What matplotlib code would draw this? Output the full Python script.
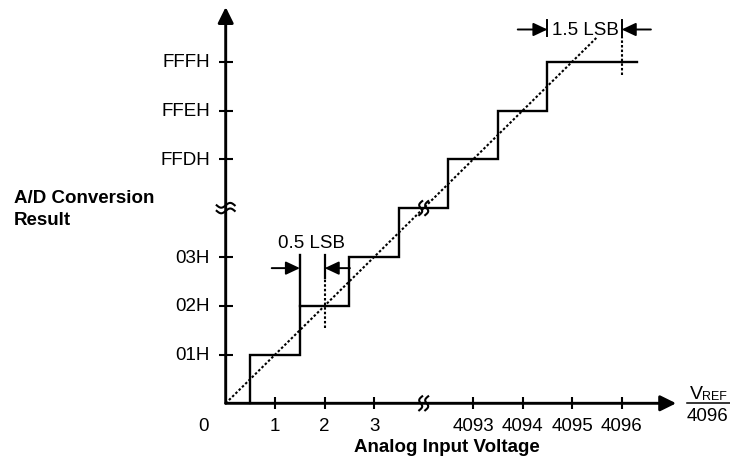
import numpy as np
import matplotlib
matplotlib.use("Agg")
import matplotlib.pyplot as plt

plt.rcParams['font.family'] = ['Liberation Sans', 'DejaVu Sans']

# ---------------- data (codes / LSB units) ----------------
x_tick_codes = [1, 2, 3, 4093, 4094, 4095, 4096]
x_tick_labels = ['1', '2', '3', '4093', '4094', '4095', '4096']
y_tick_codes = [1, 2, 3, 4093, 4094, 4095]
y_tick_labels = ['01H', '02H', '03H', 'FFDH', 'FFEH', 'FFFH']
step_inputs = [0.5, 1.5, 2.5, 3.5, 4092.5, 4093.5, 4094.5]   # transition voltages (LSB)
step_outputs = [1, 2, 3, 4, 4093, 4094, 4095]               # output code after each transition
stair_end = 4096.3
ideal_end = 4095.5
offset_lsb = 0.5       # 0.5 LSB annotation: ideal 2 vs actual 1.5
fullscale_lsb = 1.5    # 1.5 LSB annotation: 4096 vs 4094.5

BREAK_LO, BREAK_HI = 4, 4092


def m(c):
    """Map code values onto the broken axis (codes 4..4092 compressed)."""
    c = np.asarray(c, dtype=float)
    return np.where(c <= BREAK_LO, c, c - (BREAK_HI - BREAK_LO))


SX, SY = 49.5, 48.8  # pixels per unit
X0, Y0 = 225.7, 403.3
W, H = 730, 466

fig = plt.figure(figsize=(W / 100, H / 100), dpi=100)
ax = fig.add_axes([0, 0, 1, 1])
ax.set_xlim(-X0 / SX, (W - X0) / SX)
ax.set_ylim((Y0 - H) / SY, Y0 / SY)
ax.axis('off')

K = 'black'
FS = 13.5
DOT = (0, (1.2, 1.0))

# axes with arrows
arrow_style = '-|>,head_length=0.95,head_width=0.47'
ax.annotate('', xy=(9.1, 0), xytext=(0, 0),
            arrowprops=dict(arrowstyle=arrow_style, lw=2.1, color=K, shrinkA=0, shrinkB=0))
ax.annotate('', xy=(0, 8.12), xytext=(0, 0),
            arrowprops=dict(arrowstyle=arrow_style, lw=2.1, color=K, shrinkA=0, shrinkB=0))

# ticks
xt = m(x_tick_codes)
yt = m(y_tick_codes)
ax.plot(xt, np.zeros_like(xt), ls='none', marker='|', ms=9, mew=1.5, color=K)
ax.plot(np.zeros_like(yt), yt, ls='none', marker='_', ms=10, mew=1.5, color=K)

for x, lab in zip(xt, x_tick_labels):
    ax.text(x, -0.57, lab, ha='center', va='baseline', fontsize=FS)
for y, lab in zip(yt, y_tick_labels):
    ax.text(-0.32, y - 0.117, lab, ha='right', va='baseline', fontsize=FS)
ax.text(-0.44, -0.57, '0', ha='center', va='baseline', fontsize=FS)

# staircase
xs = [step_inputs[0]]
ys = [0]
for i, (sx, out) in enumerate(zip(step_inputs, step_outputs)):
    nxt = step_inputs[i + 1] if i + 1 < len(step_inputs) else stair_end
    xs += [sx, nxt]
    ys += [out, out]
ax.plot(m(xs), m(ys), color=K, lw=1.7, solid_joinstyle='miter')

# ideal transfer line
ax.plot(m([0, ideal_end]), m([0, ideal_end]), color=K, lw=1.5, ls=DOT)

# break marks
def squiggle_h(xc, yc):
    t = np.linspace(-1, 1, 40)
    for off in (-2.8, 2.8):
        dx = 9 * t
        dy = 2.4 * np.sin(np.pi * t) + off
        ax.plot(xc + dx / SX, yc + dy / SY, color=K, lw=1.5)


def squiggle_v(xc, yc):
    t = np.linspace(-1, 1, 40)
    for off in (-3.0, 3.0):
        dy = 7 * t
        dx = -2.2 * np.sin(np.pi * t) + 1.5 * t + off
        ax.plot(xc + dx / SX, yc + dy / SY, color=K, lw=1.5)


squiggle_h(0, m(BREAK_LO))
squiggle_v(m(BREAK_LO), 0)
squiggle_v(m(BREAK_LO), m(BREAK_LO))

# 0.5 LSB annotation
a1 = step_inputs[1]
a2 = a1 + offset_lsb
ax.plot([m(a1)] * 2, [2, 3.03], color=K, lw=1.7)
ax.plot([m(a2)] * 2, [2.57, 3.03], color=K, lw=1.6)
ax.plot([m(a2)] * 2, [1.55, 2.57], color=K, lw=1.5, ls=DOT)
small_arrow = '-|>,head_length=0.85,head_width=0.4'
ax.annotate('', xy=(m(a1), 2.77), xytext=(0.93, 2.77),
            arrowprops=dict(arrowstyle=small_arrow, lw=1.4, color=K, shrinkA=0, shrinkB=0))
ax.annotate('', xy=(m(a2), 2.77), xytext=(2.51, 2.77),
            arrowprops=dict(arrowstyle=small_arrow, lw=1.4, color=K, shrinkA=0, shrinkB=0))
ax.text(1.74, 3.18, '0.5 LSB', ha='center', va='baseline', fontsize=FS)

# 1.5 LSB annotation
b1 = step_inputs[-1]
b2 = b1 + fullscale_lsb
ax.plot([m(b1)] * 2, [7.52, 7.86], color=K, lw=1.4)
ax.plot([m(b2)] * 2, [7.5, 7.86], color=K, lw=1.4)
ax.plot([m(b2)] * 2, [6.73, 7.5], color=K, lw=1.5, ls=DOT)
ax.annotate('', xy=(m(b1), 7.66), xytext=(5.9, 7.66),
            arrowprops=dict(arrowstyle=small_arrow, lw=1.4, color=K, shrinkA=0, shrinkB=0))
ax.annotate('', xy=(m(b2), 7.66), xytext=(8.59, 7.66),
            arrowprops=dict(arrowstyle=small_arrow, lw=1.4, color=K, shrinkA=0, shrinkB=0))
ax.text(7.26, 7.55, '1.5 LSB', ha='center', va='baseline', fontsize=FS)

# axis titles
ax.text(-4.28, 4.1, 'A/D Conversion', ha='left', va='baseline',
        fontsize=FS, fontweight='bold')
ax.text(-4.28, 3.65, 'Result', ha='left', va='baseline',
        fontsize=FS, fontweight='bold')
ax.text(4.46, -1.0, 'Analog Input Voltage', ha='center', va='baseline',
        fontsize=FS, fontweight='bold')

# VREF / 4096 unit label
ax.text(9.38, 0.09, 'V', ha='left', va='baseline', fontsize=14)
ax.text(9.63, 0.07, 'REF', ha='left', va='baseline', fontsize=9)
ax.plot([9.31, 10.18], [0, 0], color=K, lw=1.1)
ax.text(9.74, -0.36, '4096', ha='center', va='baseline', fontsize=FS)

fig.savefig('out.png', dpi=100)
